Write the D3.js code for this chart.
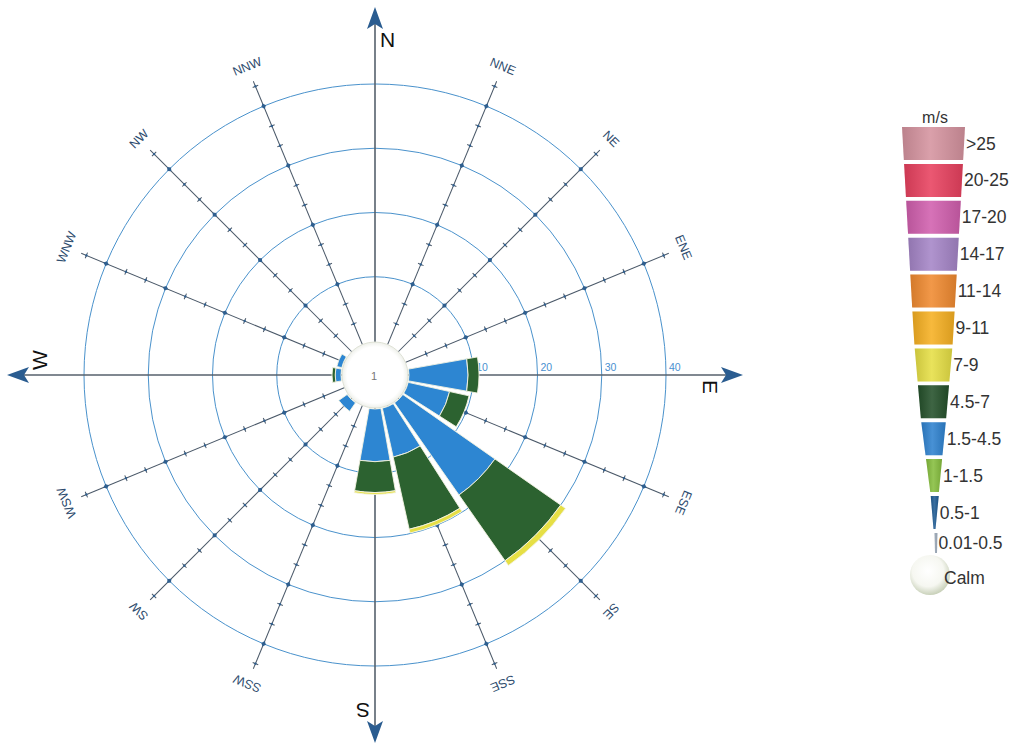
<!DOCTYPE html>
<html><head><meta charset="utf-8">
<script src="https://cdn.jsdelivr.net/npm/d3@7"></script>
<style>body{margin:0;background:#fff}svg{display:block}</style>
</head><body>
<svg id="chart" width="1021" height="743"></svg>
<script>
// ---------- data ----------
const directions = ["N","NNE","NE","ENE","E","ESE","SE","SSE","S","SSW","SW","WSW","W","WNW","NW","NNW"];
const speedKeys = ["1.5-4.5","4.5-7","7-9"];
const speed1_5to4_5 = [0,0,0,0,9.2,6.6,17.5,7.8,8.2,0,1.6,0,0.9,0.8,0,0];
const speed4_5to7   = [0,0,0,0,1.7,3.1,12.5,11.5,4.8,0,0,0,0.5,0,0,0];
const speed7to9     = [0,0,0,0,0,0,0.9,0.6,0.3,0,0,0,0,0,0,0];
const speedColors = ["#2d86d2","#2c6230","#e6df45"];
const ringValues = [10,20,30,40];
const calmText = "1";
const legendTitle = "m/s";
const legendLabels = [">25","20-25","17-20","14-17","11-14","9-11","7-9","4.5-7","1.5-4.5","1-1.5","0.5-1","0.01-0.5"];
const legendColors = ["#d5939f","#e8415f","#d15fae","#a585c7","#f08a30","#f6b022","#e6df45","#24502a","#2f82cf","#86be3e","#1f5b93","#9aa8b8"];
const calmLegend = "Calm";

// ---------- layout ----------
const cx = 375, cy = 375;
const FONT = "Liberation Sans, Arial, sans-serif";
const svg = d3.select("#chart");
const r = d3.scaleLinear().domain([0,40]).range([34,291]);
const rad = d => d * Math.PI / 180;
const pt = (deg, rr) => [cx + rr*Math.sin(rad(deg)), cy - rr*Math.cos(rad(deg))];
const angle = d3.scaleBand().domain(directions).range([0,360]);
const ang = d => angle(d);

const defs = svg.append("defs");
const rg = defs.append("radialGradient").attr("id","calmGrad").attr("cx","45%").attr("cy","40%").attr("r","60%");
rg.append("stop").attr("offset","0%").attr("stop-color","#ffffff");
rg.append("stop").attr("offset","65%").attr("stop-color","#f6f7f1");
rg.append("stop").attr("offset","100%").attr("stop-color","#c9d1ba");
const rc = defs.append("radialGradient").attr("id","centerGrad").attr("cx","50%").attr("cy","50%").attr("r","50%");
rc.append("stop").attr("offset","0%").attr("stop-color","#ffffff");
rc.append("stop").attr("offset","85%").attr("stop-color","#ffffff");
rc.append("stop").attr("offset","100%").attr("stop-color","#eef0ea");
const lg = defs.append("linearGradient").attr("id","shade").attr("x1","0").attr("x2","1").attr("y1","0").attr("y2","0");
lg.append("stop").attr("offset","0%").attr("stop-color","#000").attr("stop-opacity",0.12);
lg.append("stop").attr("offset","45%").attr("stop-color","#fff").attr("stop-opacity",0.12);
lg.append("stop").attr("offset","100%").attr("stop-color","#000").attr("stop-opacity",0.12);

// rings
svg.append("g").selectAll("circle").data(ringValues).join("circle")
  .attr("cx",cx).attr("cy",cy).attr("r",d=>r(d))
  .attr("fill","none").attr("stroke","#4a92cc").attr("stroke-width",1);

// direction lines (non-cardinal) with ticks
const lineColor = "#4a5868";
const gLines = svg.append("g");
const tickVals = d3.range(1,14).map(k=>k*10/3);
directions.forEach((d,i)=>{
  const a = ang(d);
  if (i % 4 === 0) return;
  const g = gLines.append("g").attr("transform",`translate(${cx},${cy}) rotate(${a})`);
  g.append("line").attr("x1",0).attr("y1",0).attr("x2",0).attr("y2",-318)
    .attr("stroke",lineColor).attr("stroke-width",1);
  tickVals.forEach(v=>{
    const y = -r(v);
    if (Math.abs(v - Math.round(v/10)*10) < 0.01) {
      g.append("path").attr("d",`M0,${y-3}L2.5,${y}L0,${y+3}L-2.5,${y}Z`).attr("fill","#2f5f8f");
    } else {
      g.append("line").attr("x1",-3).attr("x2",3).attr("y1",y).attr("y2",y)
        .attr("stroke",lineColor).attr("stroke-width",1);
      g.append("circle").attr("cx",0).attr("cy",y).attr("r",1.2).attr("fill","#2f5f8f");
    }
  });
  const lp = pt(a, 333);
  svg.append("text").attr("x",lp[0]).attr("y",lp[1])
    .attr("transform",`rotate(${a},${lp[0]},${lp[1]})`)
    .attr("text-anchor","middle").attr("dominant-baseline","middle")
    .attr("font-family",FONT).attr("font-size",12.5)
    .attr("fill","#2d4b6d").text(d);
});

// cardinal axes with arrows
directions.forEach((d,i)=>{
  if (i % 4 !== 0) return;
  const a = ang(d);
  const g = svg.append("g").attr("transform",`translate(${cx},${cy}) rotate(${a})`);
  g.append("line").attr("x1",0).attr("y1",0).attr("x2",0).attr("y2",-352)
    .attr("stroke","#56616c").attr("stroke-width",1.6);
  g.append("path").attr("d","M0,-368L8,-346L0,-351L-8,-346Z").attr("fill","#2a5c90");
  g.append("text").attr("x",5).attr("y",-328)
    .attr("font-family",FONT).attr("font-size",21)
    .attr("fill","#111").text(d);
});

// ring labels
svg.append("g").selectAll("text").data(ringValues).join("text")
  .attr("x",d=>cx + r(d) + 3).attr("y",cy-4)
  .attr("font-family",FONT).attr("font-size",10.5)
  .attr("fill","#4a90d0").text(d=>d);

// bars
const table = directions.map((d,i)=>({dir:d,"1.5-4.5":speed1_5to4_5[i],"4.5-7":speed4_5to7[i],"7-9":speed7to9[i]}));
const stacked = d3.stack().keys(speedKeys)(table);
const arc = d3.arc();
const gBars = svg.append("g").attr("transform",`translate(${cx},${cy})`);
stacked.forEach((layer,k)=>{
  gBars.append("g").selectAll("path").data(layer.filter(s=>s[1]-s[0]>0)).join("path")
    .attr("d",s=>arc({innerRadius:r(s[0]),outerRadius:r(s[1]),
        startAngle:rad(ang(s.data.dir)-10),endAngle:rad(ang(s.data.dir)+10)}))
    .attr("fill",speedColors[k])
    .attr("stroke","#f3f3e2").attr("stroke-width",0.9);
});

// calm circle
svg.append("circle").attr("cx",cx).attr("cy",cy).attr("r",33)
  .attr("fill","url(#centerGrad)").attr("stroke","#dfe2d6").attr("stroke-width",1);
svg.append("text").attr("x",cx-1).attr("y",cy+5).attr("text-anchor","middle")
  .attr("font-family",FONT).attr("font-size",11)
  .attr("fill","#777").text(calmText);

// legend
const leftEdge = d3.scaleLinear().domain([127,340,420,490,528,550]).range([902,914,921,930,934.5,935]).clamp(true);
const rightEdge = d3.scaleLinear().domain([127,340,420,490,528,550]).range([965,953,946,939,937.5,937]).clamp(true);
const step = 36.9, top0 = 127, segH = 33;
const gL = svg.append("g");
gL.append("text").attr("x",935).attr("y",123).attr("text-anchor","middle")
  .attr("font-family",FONT).attr("font-size",16)
  .attr("fill","#333").text(legendTitle);
legendLabels.forEach((lab,i)=>{
  const y0 = top0 + i*step, y1 = y0 + (i===legendLabels.length-1 ? 20 : segH);
  let lb = leftEdge(y1), rb = rightEdge(y1);
  if (lab === "0.5-1") { lb = 933.5; rb = 935.5; }
  const poly = `M${leftEdge(y0)},${y0}L${rightEdge(y0)},${y0}L${rb},${y1}L${lb},${y1}Z`;
  gL.append("path").attr("d",poly).attr("fill",legendColors[i]);
  gL.append("path").attr("d",poly).attr("fill","url(#shade)");
  gL.append("text").attr("x",rightEdge(y0)+1).attr("y",(y0+y1)/2+6)
    .attr("font-family",FONT).attr("font-size",17.5)
    .attr("fill","#333").text(lab);
});
gL.append("circle").attr("cx",930).attr("cy",575).attr("r",20).attr("fill","url(#calmGrad)");
gL.append("text").attr("x",944).attr("y",584)
  .attr("font-family",FONT).attr("font-size",17.5)
  .attr("fill","#333").text(calmLegend);
</script>
</body></html>
